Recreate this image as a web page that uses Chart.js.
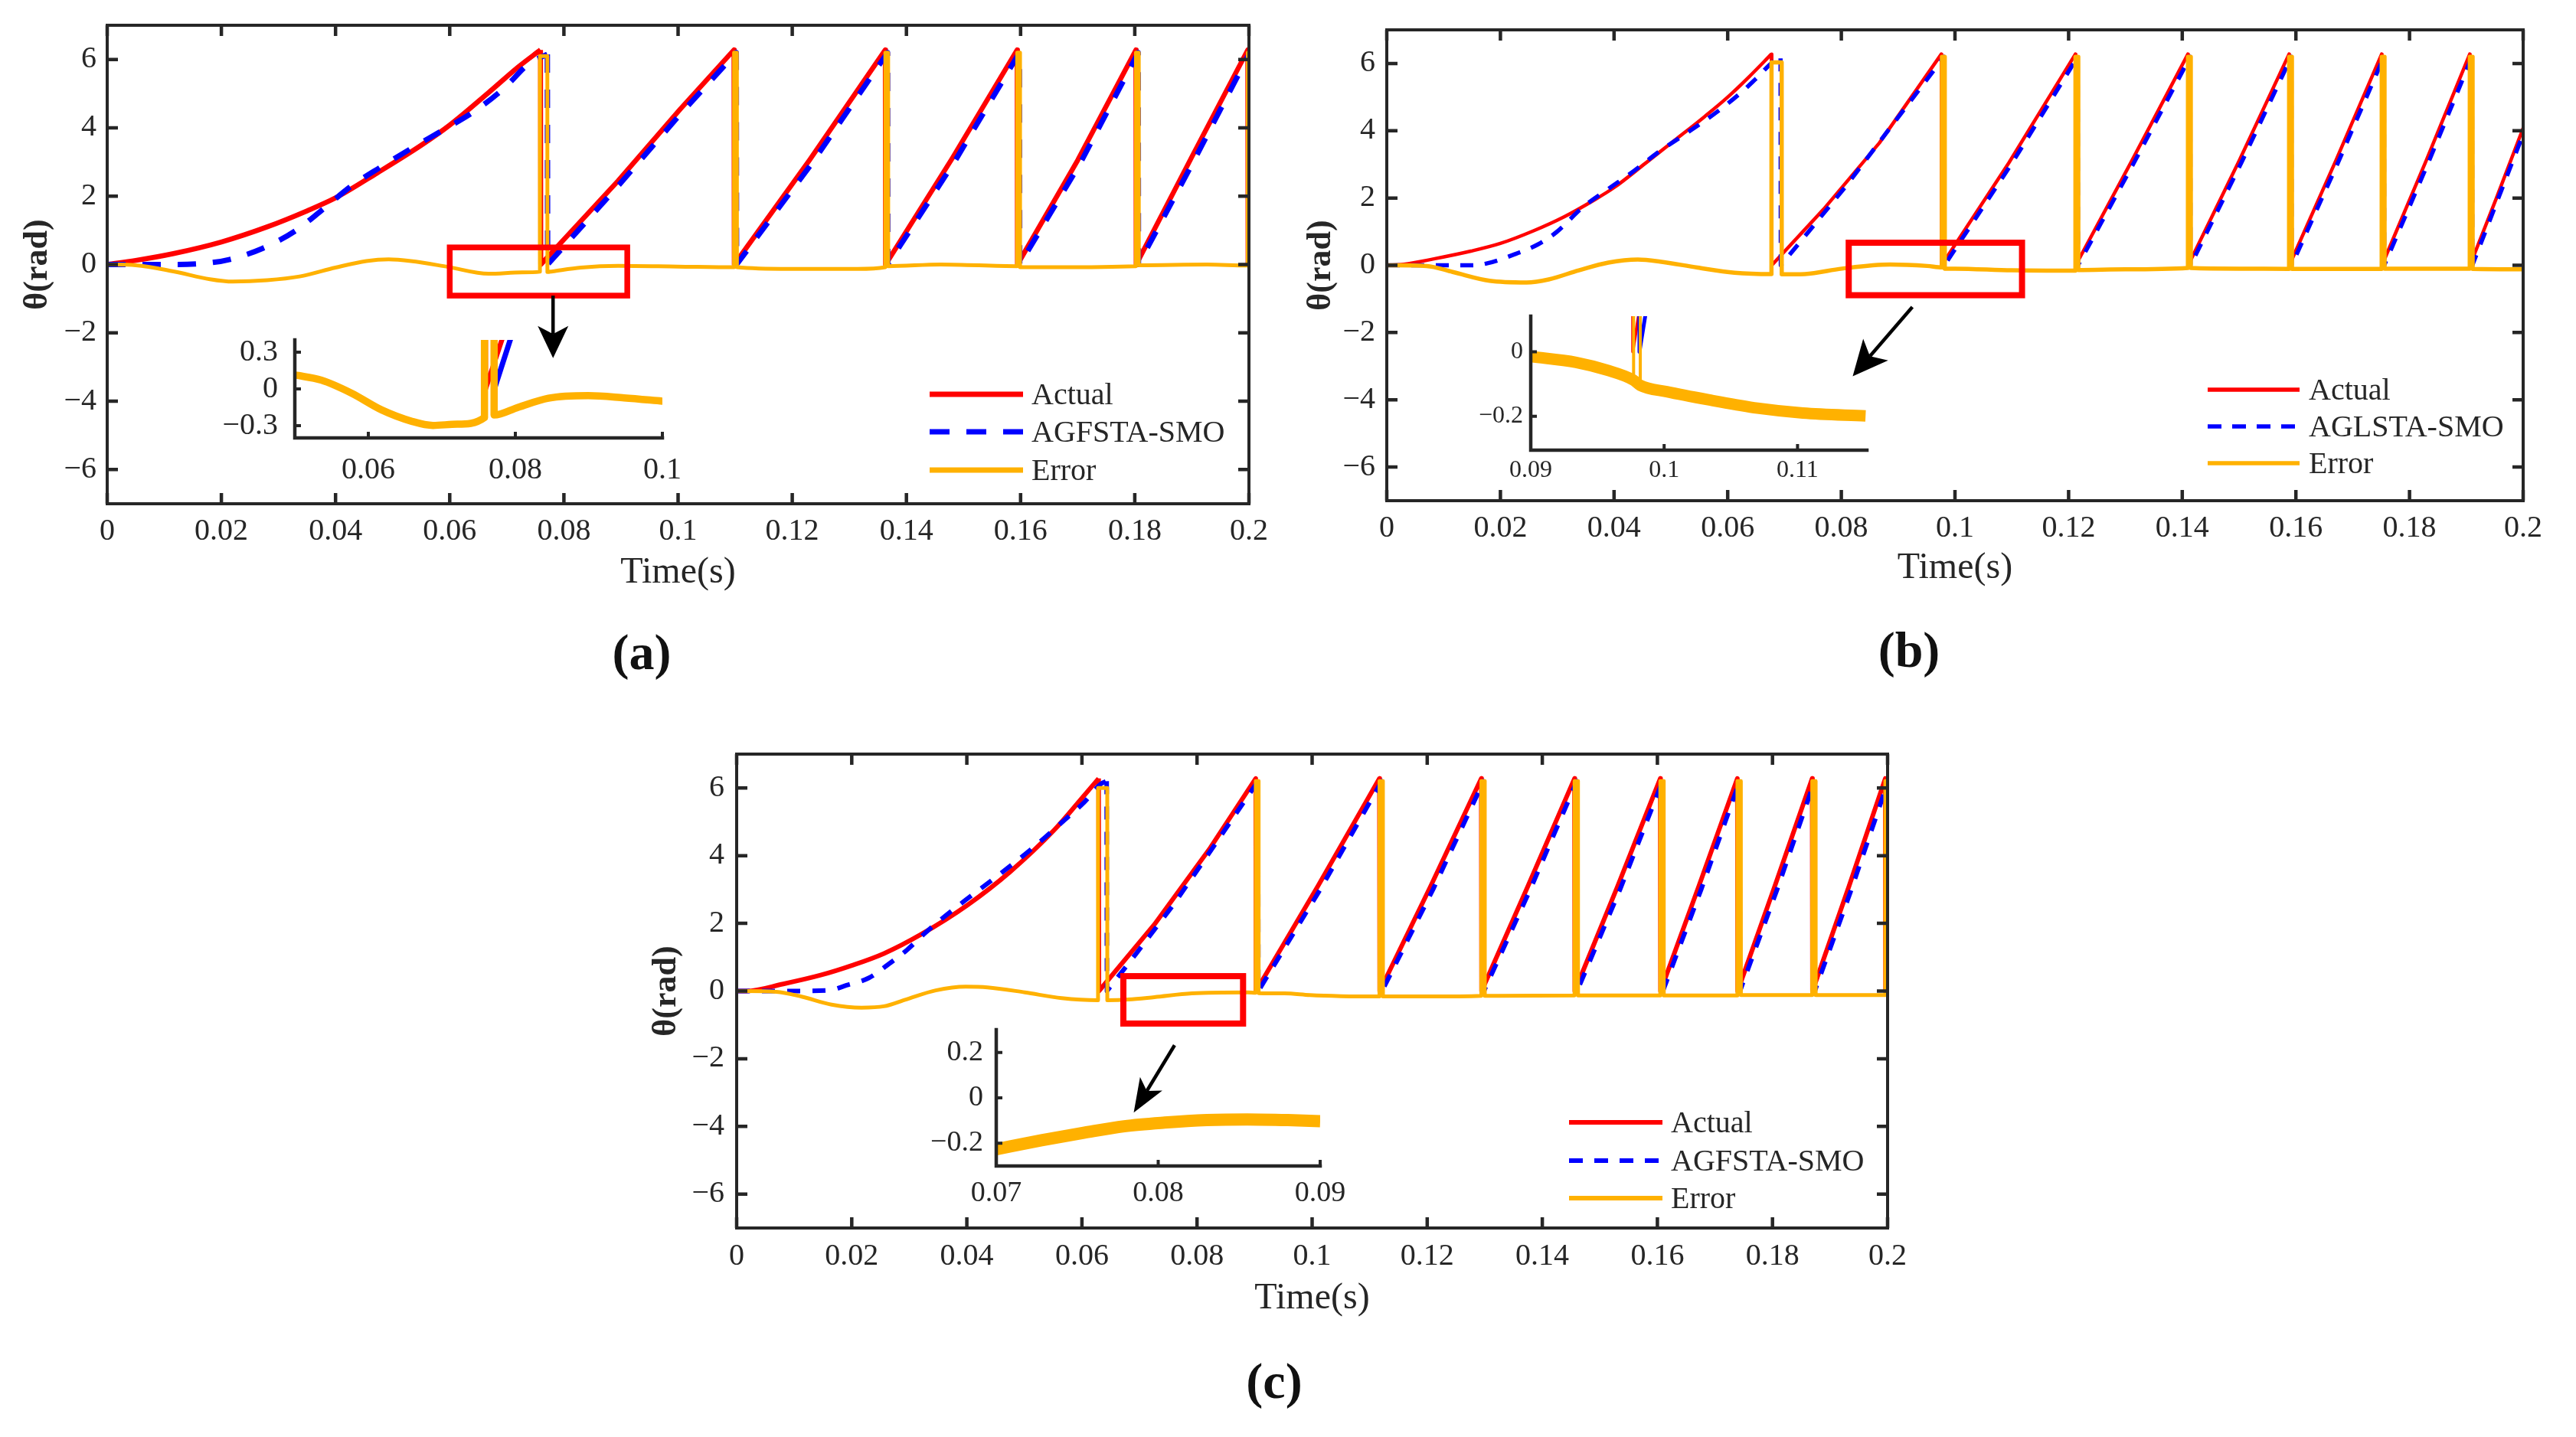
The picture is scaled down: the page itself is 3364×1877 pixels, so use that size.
<!DOCTYPE html>
<html><head><meta charset="utf-8">
<script src="https://cdn.jsdelivr.net/npm/chart.js@4.4.1/dist/chart.umd.min.js"></script>
<style>
html,body{margin:0;padding:0;background:#fff;}
body{position:relative;width:3364px;height:1877px;overflow:hidden;font-family:'Liberation Serif','Times New Roman',serif;color:#262626;}
canvas{position:absolute;}
.t{position:absolute;white-space:nowrap;font-size:40px;line-height:48px;height:48px;}
.cap{position:absolute;width:200px;text-align:center;font-weight:bold;font-size:66px;line-height:80px;height:80px;color:#111;}
svg{position:absolute;left:0;top:0;}
</style></head>
<body>
<canvas id="cA"></canvas>
<canvas id="cB"></canvas>
<canvas id="cC"></canvas>
<canvas id="iA"></canvas>
<canvas id="iB"></canvas>
<canvas id="iC"></canvas>
<svg width="3364" height="1877">
  <line x1="1214" y1="515" x2="1336" y2="515" stroke="#FF0000" stroke-width="7"/>
  <line x1="1214" y1="564" x2="1336" y2="564" stroke="#0000FF" stroke-width="7" stroke-dasharray="26 22"/>
  <line x1="1214" y1="614" x2="1336" y2="614" stroke="#FFB100" stroke-width="7"/>
  <line x1="2883" y1="509" x2="3003" y2="509" stroke="#FF0000" stroke-width="5.5"/>
  <line x1="2883" y1="557" x2="3003" y2="557" stroke="#0000FF" stroke-width="5.5" stroke-dasharray="18 14"/>
  <line x1="2883" y1="605" x2="3003" y2="605" stroke="#FFB100" stroke-width="5.5"/>
  <line x1="2049" y1="1466" x2="2171" y2="1466" stroke="#FF0000" stroke-width="6"/>
  <line x1="2049" y1="1516" x2="2171" y2="1516" stroke="#0000FF" stroke-width="6" stroke-dasharray="18 15"/>
  <line x1="2049" y1="1565" x2="2171" y2="1565" stroke="#FFB100" stroke-width="6"/>
</svg>
<div class="t" style="left:1347px;top:491px">Actual</div>
<div class="t" style="left:1347px;top:540px">AGFSTA-SMO</div>
<div class="t" style="left:1347px;top:590px">Error</div>
<div class="t" style="left:3015px;top:485px">Actual</div>
<div class="t" style="left:3015px;top:533px">AGLSTA-SMO</div>
<div class="t" style="left:3015px;top:581px">Error</div>
<div class="t" style="left:2182px;top:1442px">Actual</div>
<div class="t" style="left:2182px;top:1492px">AGFSTA-SMO</div>
<div class="t" style="left:2182px;top:1541px">Error</div>
<div class="cap" style="left:738px;top:812px">(a)</div>
<div class="cap" style="left:2393px;top:809px">(b)</div>
<div class="cap" style="left:1564px;top:1764px">(c)</div>
<script>
// ---------- tick values / labels ----------
const mainXTicks = [0,0.02,0.04,0.06,0.08,0.1,0.12,0.14,0.16,0.18,0.2];
const mainXLabels = ['0','0.02','0.04','0.06','0.08','0.1','0.12','0.14','0.16','0.18','0.2'];
const mainYTicks = [-6,-4,-2,0,2,4,6];
const mainYLabels = ['\u22126','\u22124','\u22122','0','2','4','6'];
const insAXTicks = [0.06,0.08,0.1];
const insAXLabels = ['0.06','0.08','0.1'];
const insAYTicks = [-0.3,0,0.3];
const insAYLabels = ['\u22120.3','0','0.3'];
const insBXTicks = [0.09,0.1,0.11];
const insBXLabels = ['0.09','0.1','0.11'];
const insBYTicks = [-0.2,0];
const insBYLabels = ['\u22120.2','0'];
const insCXTicks = [0.07,0.08,0.09];
const insCXLabels = ['0.07','0.08','0.09'];
const insCYTicks = [-0.2,0,0.2];
const insCYLabels = ['\u22120.2','0','0.2'];

// ---------- chart (a) ----------
const aActualRiseT = [0,0.005,0.0116,0.02,0.028,0.035,0.04,0.0473,0.0551,0.06,0.0668,0.072,0.0759];
const aActualRiseV = [0,0.12,0.32,0.66,1.1,1.57,1.95,2.68,3.5,4.08,5.03,5.78,6.28];
const aActualSawT = [0.0759,0.07595,0.0895,0.1004,0.1098, 0.10985,0.123,0.1363, 0.13635,0.148,0.1594,
  0.15945,0.17,0.1802, 0.18025,0.19,0.1998, 0.19985,0.2];
const aActualSawV = [6.28,0,2.45,4.55,6.28, 0,3.05,6.28, 0,3.1,6.28,
  0,3.05,6.28, 0,3.15,6.28, 0,0.1];
const aEstRiseT = [0,0.005,0.012,0.018,0.0215,0.0272,0.033,0.0376,0.0428,0.048,0.0532,0.059,0.0642,0.0694,0.0739,0.0771];
const aEstRiseV = [0,0,0,0.05,0.15,0.47,0.99,1.59,2.3,2.86,3.39,3.95,4.47,5.14,5.88,6.15];
const aEstSawT = [0.0771,0.07715,0.0895,0.1004,0.1102, 0.11025,0.1234,0.1367, 0.13675,0.1484,0.1598,
  0.15985,0.1704,0.1806, 0.18065,0.1904,0.2];
const aEstSawV = [6.15,0,2.3,4.4,6.2, 0,2.95,6.2, 0,3.0,6.2,
  0,2.95,6.2, 0,3.05,6.15];
const aErrT = [0,0.005,0.0116,0.018,0.022,0.028,0.0337,0.04,0.0454,0.0493,0.0532,0.0597,0.0668,0.0727,0.0758,
  0.07581,0.0771,0.07711,0.078,0.083,0.0895,0.0999,0.1098,
  0.10981,0.1103,0.11031,0.1195,0.1314,0.1363,
  0.13631,0.1368,0.13681,0.146,0.1594,
  0.15941,0.1599,0.15991,0.166,0.1802,
  0.18021,0.1807,0.18071,0.1927,0.1998,
  0.19981,0.2];
const aErrV = [0,-0.02,-0.2,-0.43,-0.5,-0.46,-0.35,-0.09,0.1,0.15,0.1,-0.07,-0.27,-0.23,-0.21,
  6.1,6.1,-0.22,-0.2,-0.09,-0.04,-0.06,-0.08,
  6.2,6.2,-0.08,-0.13,-0.13,-0.08,
  6.2,6.2,-0.05,0.0,-0.05,
  6.2,6.2,-0.08,-0.08,-0.05,
  6.2,6.2,-0.02,0.0,-0.03,
  6.2,6.2];
const aInsErrT = [0.05,0.0536,0.0577,0.0618,0.066,0.0688,0.0721,0.0758,0.07581,0.0771,0.07711,0.0804,0.0845,0.0899,0.0948,0.1001];
const aInsErrV = [0.114,0.072,-0.034,-0.171,-0.266,-0.298,-0.288,-0.234,6.1,6.1,-0.213,-0.15,-0.076,-0.055,-0.073,-0.1];

// ---------- chart (b) ----------
const bActualRiseT = [0,0.003,0.0083,0.0148,0.02,0.0259,0.0312,0.0364,0.04,0.0455,0.0507,0.056,0.06,0.0638,0.0677];
const bActualRiseV = [0,0.03,0.19,0.42,0.65,1.03,1.44,1.93,2.31,3.03,3.72,4.43,5.0,5.61,6.28];
const bActualSawT = [0.0677,0.06775,0.0769,0.0867,0.0976, 0.09765,0.1095,0.1212, 0.12125,0.1311,0.141,
  0.14105,0.15,0.1588, 0.15885,0.167,0.1751, 0.17515,0.1829,0.1906, 0.19065,0.1953,0.2];
const bActualSawV = [6.28,0,1.67,3.64,6.28, 0,3.05,6.28, 0,3.1,6.28,
  0,3.1,6.28, 0,3.1,6.28, 0,3.1,6.28, 0,2.0,4.08];
const bEstRiseT = [0,0.008,0.015,0.0177,0.0227,0.0266,0.0299,0.0344,0.039,0.0429,0.0481,0.0527,0.0585,0.0625,0.0651,0.0684,0.0693];
const bEstRiseV = [0,0,0,0.06,0.34,0.62,0.99,1.71,2.27,2.73,3.4,3.92,4.61,5.16,5.57,6.1,6.15];
const bEstSawT = [0.0693,0.06935,0.0742,0.0808,0.0886,0.0981, 0.09815,0.1099,0.1216, 0.12165,0.1315,0.1414,
  0.14145,0.1504,0.1592, 0.15925,0.1674,0.1755, 0.17555,0.1833,0.191, 0.19105,0.2];
const bEstSawV = [6.15,0,0.99,2.35,4.09,6.2, 0,3.0,6.2, 0,3.05,6.2,
  0,3.05,6.2, 0,3.05,6.2, 0,3.05,6.2, 0,3.9];
const bErrT = [0,0.007,0.0116,0.0181,0.0246,0.0285,0.0338,0.039,0.0442,0.0481,0.0547,0.0612,0.0677,
  0.06771,0.0695,0.06951,0.0736,0.0801,0.0886,0.0951,0.0977,
  0.09771,0.0982,0.09821,0.1,0.11,0.1212,
  0.12121,0.1217,0.12171,0.13,0.141,
  0.14101,0.1415,0.14151,0.15,0.1588,
  0.15881,0.1593,0.15931,0.167,0.1751,
  0.17511,0.1756,0.17561,0.183,0.1906,
  0.19061,0.1911,0.19111,0.2];
const bErrV = [0,-0.02,-0.2,-0.46,-0.51,-0.42,-0.15,0.08,0.17,0.11,-0.07,-0.22,-0.26,
  6.03,6.03,-0.27,-0.26,-0.1,0.02,-0.02,-0.06,
  6.2,6.2,-0.1,-0.1,-0.15,-0.16,
  6.2,6.2,-0.14,-0.12,-0.08,
  6.2,6.2,-0.08,-0.1,-0.11,
  6.2,6.2,-0.11,-0.11,-0.11,
  6.2,6.2,-0.1,-0.1,-0.1,
  6.2,6.2,-0.11,-0.12];
const bInsErrT = [0.09,0.0934,0.0957,0.0977,0.0982,0.1002,0.1036,0.107,0.1104,0.1151];
const bInsErrV = [-0.015,-0.033,-0.057,-0.088,-0.104,-0.124,-0.151,-0.175,-0.19,-0.199];
const bInsSpikeT = [0.0977,0.09771,0.0982,0.09821];
const bInsSpikeV = [-0.088,6.2,6.2,-0.104];

// ---------- chart (c) ----------
const cActualRiseT = [0,0.0017,0.0081,0.0146,0.0201,0.0256,0.032,0.0401,0.0475,0.0552,0.06,0.0629];
const cActualRiseV = [0,0,0.21,0.47,0.76,1.11,1.67,2.54,3.52,4.76,5.7,6.28];
const cActualSawT = [0.0629,0.06295,0.0726,0.0823,0.0902, 0.09025,0.101,0.1117, 0.11175,0.1206,0.1294,
  0.12945,0.1375,0.1456, 0.14565,0.1531,0.1605, 0.16055,0.1672,0.1739,
  0.17395,0.1804,0.1869, 0.18695,0.1933,0.1996, 0.19965,0.2];
const cActualSawV = [6.28,0,1.97,4.23,6.28, 0,3.1,6.28, 0,3.1,6.28,
  0,3.1,6.28, 0,3.1,6.28, 0,3.1,6.28,
  0,3.1,6.28, 0,3.1,6.28, 0,0.3];
const cEstRiseT = [0,0.01,0.016,0.0191,0.023,0.0262,0.0295,0.0333,0.0385,0.045,0.0514,0.0565,0.0604,0.0633,0.0643];
const cEstRiseV = [0,0,0.02,0.17,0.39,0.77,1.2,1.8,2.52,3.36,4.22,4.98,5.58,6.12,6.2];
const cEstSawT = [0.0643,0.06435,0.0694,0.0759,0.083,0.0906, 0.09065,0.1014,0.1121, 0.11215,0.121,0.1298,
  0.12985,0.1379,0.146, 0.14605,0.1535,0.1609, 0.16095,0.1676,0.1743,
  0.17435,0.1808,0.1873, 0.18735,0.1937,0.2];
const cEstSawV = [6.2,0,1.1,2.55,4.3,6.2, 0,3.0,6.2, 0,3.0,6.2,
  0,3.0,6.2, 0,3.0,6.2, 0,3.0,6.2,
  0,3.0,6.2, 0,3.0,6.15];
const cErrT = [0,0.0069,0.0114,0.0165,0.0217,0.0256,0.0294,0.0346,0.0398,0.0436,0.0501,0.0565,0.0628,
  0.06281,0.0644,0.06441,0.0681,0.0726,0.0791,0.0888,0.0902,
  0.09021,0.0907,0.09071,0.0952,0.0996,0.105,0.1117,
  0.11171,0.1123,0.11231,0.12,0.1294,
  0.12941,0.13,0.13001,0.1456,
  0.14561,0.1462,0.14621,0.1605,
  0.16051,0.1611,0.16111,0.1739,
  0.17391,0.1745,0.17451,0.1869,
  0.18691,0.1875,0.18751,0.1996,
  0.19961,0.2];
const cErrV = [0,-0.02,-0.17,-0.4,-0.49,-0.45,-0.25,0.02,0.13,0.11,-0.04,-0.21,-0.27,
  6.0,6.0,-0.27,-0.25,-0.18,-0.07,-0.04,-0.05,
  6.2,6.2,-0.06,-0.07,-0.12,-0.15,-0.16,
  6.2,6.2,-0.16,-0.16,-0.14,
  6.2,6.2,-0.14,-0.13,
  6.2,6.2,-0.13,-0.13,
  6.2,6.2,-0.13,-0.13,
  6.2,6.2,-0.12,-0.12,
  6.2,6.2,-0.12,-0.12,
  6.2,6.2];
const cInsErrT = [0.07,0.0728,0.0754,0.0779,0.0804,0.083,0.0855,0.088,0.09];
const cInsErrV = [-0.226,-0.187,-0.154,-0.125,-0.109,-0.098,-0.095,-0.098,-0.103];

// ---------- helpers ----------
const SERIF = "'Liberation Serif','Times New Roman',serif";
const RED = '#FF0000', BLUE = '#0000FF', ORANGE = '#FFB100', AXIS = '#262626';
function pts(T, V) { return T.map((t, i) => ({x: t, y: V[i]})); }
function ds(label, T, V, color, w, dash, order, smooth) {
  const d = {label, data: pts(T, V), borderColor: color, borderWidth: w, borderDash: dash || [],
    pointRadius: 0, fill: false, tension: 0, borderJoinStyle: 'round', order};
  if (smooth) { d.cubicInterpolationMode = 'monotone'; }
  return d;
}
function drawArrow(ctx, x1, y1, x2, y2, len, wid, lw) {
  const ang = Math.atan2(y2 - y1, x2 - x1);
  const c = Math.cos(ang), s = Math.sin(ang);
  const bx = x2 - len * c, by = y2 - len * s;
  const nx = x2 - len * 0.75 * c, ny = y2 - len * 0.75 * s;
  ctx.lineWidth = lw; ctx.lineCap = 'butt';
  ctx.beginPath(); ctx.moveTo(x1, y1); ctx.lineTo(nx, ny); ctx.stroke();
  ctx.beginPath();
  ctx.moveTo(x2, y2);
  ctx.lineTo(bx - s * wid / 2, by + c * wid / 2);
  ctx.lineTo(nx, ny);
  ctx.lineTo(bx + s * wid / 2, by - c * wid / 2);
  ctx.closePath(); ctx.fill();
}
function framePlugin(spec) {
  return {
    id: 'frame' + spec.name,
    afterDatasetsDraw(chart) {
      const {ctx, chartArea: a, scales: {x, y}} = chart;
      ctx.save();
      ctx.strokeStyle = AXIS; ctx.fillStyle = '#000';
      ctx.lineWidth = spec.axisW; ctx.lineCap = 'square'; ctx.lineJoin = 'miter';
      ctx.beginPath();
      if (spec.box) { ctx.rect(a.left, a.top, a.right - a.left, a.bottom - a.top); }
      else { ctx.moveTo(a.left, a.top); ctx.lineTo(a.left, a.bottom); ctx.lineTo(a.right, a.bottom); }
      ctx.stroke();
      ctx.lineWidth = spec.tickW; ctx.lineCap = 'butt';
      ctx.beginPath();
      spec.xTicks.forEach(v => {
        const p = x.getPixelForValue(v);
        ctx.moveTo(p, a.bottom); ctx.lineTo(p, a.bottom - spec.tickLen);
        if (spec.box) { ctx.moveTo(p, a.top); ctx.lineTo(p, a.top + spec.tickLen); }
      });
      spec.yTicks.forEach(v => {
        const p = y.getPixelForValue(v);
        ctx.moveTo(a.left, p); ctx.lineTo(a.left + spec.tickLen, p);
        if (spec.box) { ctx.moveTo(a.right, p); ctx.lineTo(a.right - spec.tickLen, p); }
      });
      ctx.stroke();
      if (spec.rect) {
        const r = spec.rect;
        const x1 = x.getPixelForValue(r[0]), x2 = x.getPixelForValue(r[1]);
        const y1 = y.getPixelForValue(r[3]), y2 = y.getPixelForValue(r[2]);
        ctx.strokeStyle = RED; ctx.lineWidth = r[4]; ctx.lineJoin = 'miter';
        ctx.strokeRect(x1, y1, x2 - x1, y2 - y1);
      }
      if (spec.arrow) {
        const w = spec.arrow;
        ctx.strokeStyle = '#000';
        drawArrow(ctx, x.getPixelForValue(w[0]), y.getPixelForValue(w[1]),
          x.getPixelForValue(w[2]), y.getPixelForValue(w[3]), w[4], w[5], w[6]);
      }
      ctx.restore();
    }
  };
}
function makeChart(id, c) {
  const cv = document.getElementById(id);
  const [bl, bt, bw, bh] = c.box;
  cv.width = bw; cv.height = bh;
  cv.style.left = bl + 'px'; cv.style.top = bt + 'px';
  cv.style.width = bw + 'px'; cv.style.height = bh + 'px';
  const L = c.area[0] - bl, T = c.area[1] - bt, R = c.area[2] - bl, B = c.area[3] - bt;
  const font = {family: SERIF, size: c.fs};
  const xs = {
    type: 'linear', position: 'bottom', min: c.xr[0], max: c.xr[1],
    afterBuildTicks: s => { s.ticks = c.xTicks.map(v => ({value: v})); },
    afterFit: s => { s.height = c.hx; s.paddingLeft = 0; s.paddingRight = 0; },
    grid: {display: false, drawTicks: false}, border: {display: false},
    ticks: {callback: (v, i) => c.xLabels[i], font, color: AXIS, padding: c.xPad,
      autoSkip: false, maxRotation: 0, minRotation: 0}
  };
  const ys = {
    type: 'linear', position: 'left', min: c.yr[0], max: c.yr[1],
    afterBuildTicks: s => { s.ticks = c.yTicks.map(v => ({value: v})); },
    afterFit: s => { s.width = L; s.paddingTop = 0; s.paddingBottom = 0; },
    grid: {display: false, drawTicks: false}, border: {display: false},
    ticks: {callback: (v, i) => c.yLabels[i], font, color: AXIS, padding: c.yPad, autoSkip: false}
  };
  if (c.xTitle) xs.title = {display: true, text: c.xTitle.text, color: AXIS,
    font: {family: SERIF, size: 48}, padding: {top: 0, bottom: c.xTitle.pb}};
  if (c.yTitle) ys.title = {display: true, text: c.yTitle.text, color: AXIS,
    font: {family: SERIF, size: 44, weight: 'bold'}, padding: {top: c.yTitle.pt, bottom: 0}};
  return new Chart(cv, {
    type: 'line',
    data: {datasets: c.datasets},
    options: {
      responsive: false, animation: false, devicePixelRatio: 1,
      layout: {padding: {left: 0, top: T, right: bw - R, bottom: bh - B - c.hx}},
      plugins: {legend: {display: false}, tooltip: {enabled: false}},
      events: [],
      scales: {x: xs, y: ys}
    },
    plugins: [framePlugin(Object.assign({name: id}, c.frame))]
  });
}
function seriesSets(p, estLabel, rw, bw, dash, ow) {
  return [ds('Actual', p.arT, p.arV, RED, rw, null, 3, true),
          ds('Actual', p.asT, p.asV, RED, rw, null, 3, false),
          ds(estLabel, p.erT, p.erV, BLUE, bw, dash, 2, true),
          ds(estLabel, p.esT, p.esV, BLUE, bw, dash, 2, false)];
}
const A = {arT: aActualRiseT, arV: aActualRiseV, asT: aActualSawT, asV: aActualSawV,
           erT: aEstRiseT, erV: aEstRiseV, esT: aEstSawT, esV: aEstSawV};
const B = {arT: bActualRiseT, arV: bActualRiseV, asT: bActualSawT, asV: bActualSawV,
           erT: bEstRiseT, erV: bEstRiseV, esT: bEstSawT, esV: bEstSawV};
const C = {arT: cActualRiseT, arV: cActualRiseV, asT: cActualSawT, asV: cActualSawV,
           erT: cEstRiseT, erV: cEstRiseV, esT: cEstSawT, esV: cEstSawV};

// ---------- main charts ----------
const mainFrame = {box: true, axisW: 4, tickW: 4.5, tickLen: 14, xTicks: mainXTicks, yTicks: mainYTicks};
makeChart('cA', {box: [0, 0, 1690, 800], area: [140, 33, 1631, 658], hx: 130, xr: [0, 0.2], yr: [-7, 7],
  xTicks: mainXTicks, xLabels: mainXLabels, yTicks: mainYTicks, yLabels: mainYLabels,
  fs: 40, xPad: 12, yPad: 14, xTitle: {text: 'Time(s)', pb: 11}, yTitle: {text: '\u03b8(rad)', pt: 23},
  datasets: seriesSets(A, 'AGFSTA-SMO', 6.5, 7, [24, 22]).concat([ds('Error', aErrT, aErrV, ORANGE, 5, null, 1, true)]),
  frame: Object.assign({}, mainFrame, {rect: [0.06, 0.0911, -0.91, 0.5, 7.5],
    arrow: [0.0781, -0.91, 0.0781, -2.74, 42, 40, 4.5]})});

makeChart('cB', {box: [1690, 0, 1674, 800], area: [1811, 39, 3295, 654], hx: 130, xr: [0, 0.2], yr: [-7, 7],
  xTicks: mainXTicks, xLabels: mainXLabels, yTicks: mainYTicks, yLabels: mainYLabels,
  fs: 40, xPad: 12, yPad: 15, xTitle: {text: 'Time(s)', pb: 13}, yTitle: {text: '\u03b8(rad)', pt: 9},
  datasets: seriesSets(B, 'AGLSTA-SMO', 4.5, 5.5, [17, 15]).concat([ds('Error', bErrT, bErrV, ORANGE, 5.5, null, 1, true)]),
  frame: Object.assign({}, mainFrame, {rect: [0.0813, 0.1118, -0.89, 0.67, 8],
    arrow: [0.0925, -1.24, 0.082, -3.3, 46, 43, 4.5]})});

makeChart('cC', {box: [840, 940, 1700, 937], area: [962, 985, 2465, 1604], hx: 130, xr: [0, 0.2], yr: [-7, 7],
  xTicks: mainXTicks, xLabels: mainXLabels, yTicks: mainYTicks, yLabels: mainYLabels,
  fs: 40, xPad: 13, yPad: 16, xTitle: {text: 'Time(s)', pb: 9}, yTitle: {text: '\u03b8(rad)', pt: 4},
  datasets: seriesSets(C, 'AGFSTA-SMO', 6, 6, [17, 16]).concat([ds('Error', cErrT, cErrV, ORANGE, 5, null, 1, true)]),
  frame: Object.assign({}, mainFrame, {rect: [0.0672, 0.088, -0.96, 0.44, 8],
    arrow: [0.0761, -1.6, 0.069, -3.59, 44, 34, 4.5]})});

// ---------- insets ----------
makeChart('iA', {box: [280, 410, 640, 250], area: [385, 444, 865, 572], hx: 80, xr: [0.05, 0.1], yr: [-0.4, 0.4],
  xTicks: insAXTicks, xLabels: insAXLabels, yTicks: insAYTicks, yLabels: insAYLabels,
  fs: 40, xPad: 18, yPad: 22,
  datasets: seriesSets(A, 'AGFSTA-SMO', 6.5, 7, null).concat([ds('Error', aInsErrT, aInsErrV, ORANGE, 9.5, null, 1, true)]),
  frame: {box: false, axisW: 4.5, tickW: 4, tickLen: 8, xTicks: insAXTicks, yTicks: insAYTicks}});

makeChart('iB', {box: [1900, 380, 600, 280], area: [1999, 413, 2438, 588], hx: 60, xr: [0.09, 0.1152], yr: [-0.305, 0.11],
  xTicks: insBXTicks, xLabels: insBXLabels, yTicks: insBYTicks, yLabels: insBYLabels,
  fs: 32, xPad: 7, yPad: 10,
  datasets: seriesSets(B, 'AGLSTA-SMO', 4, 5, null).concat([
    ds('Error', bInsErrT, bInsErrV, ORANGE, 15, null, 1, true),
    ds('Error', bInsSpikeT, bInsSpikeV, ORANGE, 4, null, 0, false)]),
  frame: {box: false, axisW: 4.5, tickW: 4, tickLen: 8, xTicks: insBXTicks, yTicks: insBYTicks}});

makeChart('iC', {box: [1200, 1310, 600, 300], area: [1301, 1345, 1724, 1523], hx: 70, xr: [0.07, 0.09], yr: [-0.3, 0.3],
  xTicks: insCXTicks, xLabels: insCXLabels, yTicks: insCYTicks, yLabels: insCYLabels,
  fs: 38, xPad: 13, yPad: 17,
  datasets: seriesSets(C, 'AGFSTA-SMO', 6, 6, null).concat([ds('Error', cInsErrT, cInsErrV, ORANGE, 16, null, 1, true)]),
  frame: {box: false, axisW: 4.5, tickW: 4, tickLen: 8, xTicks: insCXTicks, yTicks: insCYTicks}});
</script>
</body></html>
